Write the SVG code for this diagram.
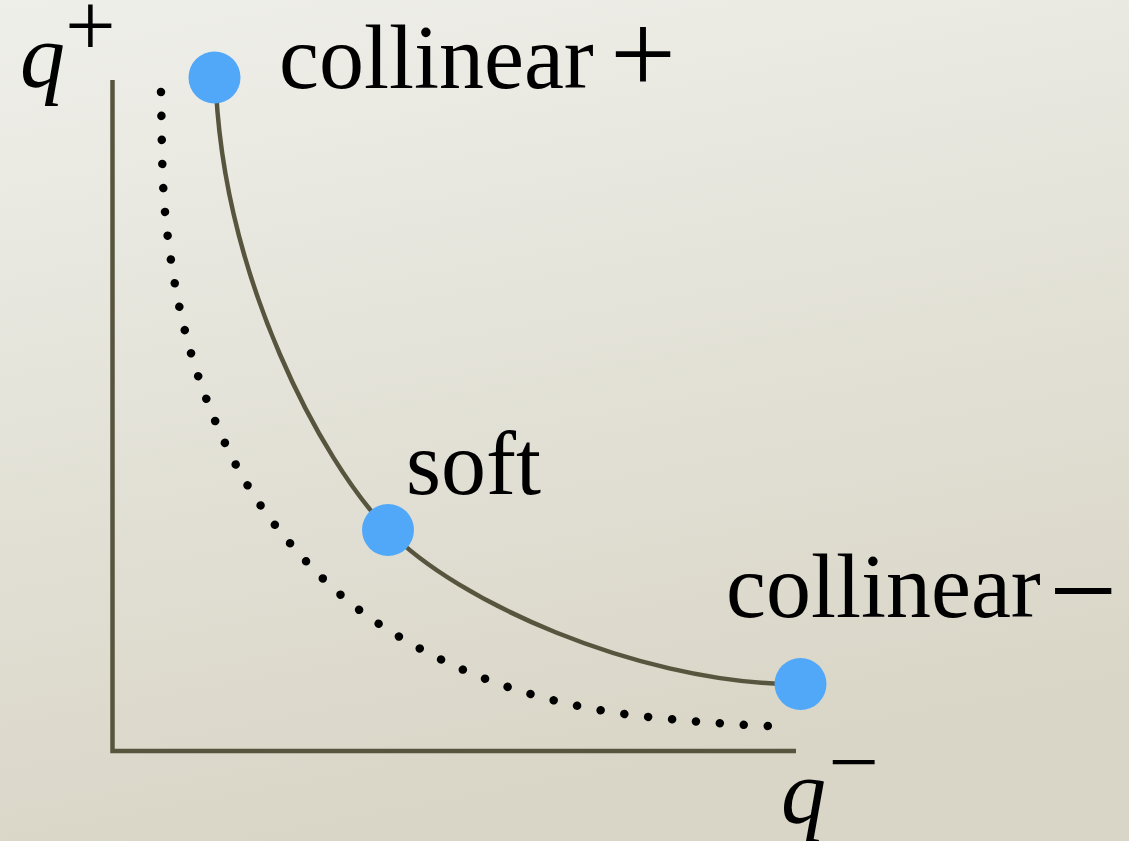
<svg xmlns="http://www.w3.org/2000/svg" width="1129" height="841" viewBox="0 0 1129 841">
  <defs>
    <linearGradient id="bg" x1="0" y1="0" x2="0.25" y2="1">
      <stop offset="0" stop-color="#efefea"/>
      <stop offset="1" stop-color="#d9d6c7"/>
    </linearGradient>
  </defs>
  <style>
    .lbl { font-family: "Liberation Serif", "Times New Roman", serif; font-size: 90px; fill: #000; }
    .ital { font-style: italic; }
    .axis { fill: none; stroke: #58553f; stroke-width: 4.5; stroke-linejoin: miter; }
    .curve { fill: none; stroke: #58553f; stroke-width: 4.5; }
    .dots { fill: none; stroke: #000; stroke-width: 8.5; stroke-linecap: round; stroke-dasharray: 0.001 0.999; }
    .pt { fill: #52a8f8; }
  </style>
  <rect width="1129" height="841" fill="url(#bg)"/>

  <g id="axes">
    <path class="axis" d="M112.5 80 V751 H796"/>
    <text class="lbl ital" x="20" y="87">q</text>
    <text class="lbl" x="65" y="56" font-size="91">+</text>
    <text class="lbl ital" x="781" y="823">q</text>
    <text class="lbl" x="828.5" y="792" font-size="83">−</text>
  </g>

  <g id="connectors">
    <path class="curve" d="M216 90 C226 280 319 458 388 530 C457 602 635 680 785 684"/>
    <path class="dots" pathLength="42.01" d="M161 92 C161.7 112 161.3 175 165 212 C171.2 274 182.4 336 206 398 C222 440 242 483 275 525 C305 563 339 597.6 379 624 C419 650.4 462.5 671.8 508 687 C553.5 702.2 601.2 712 649 717 C688.8 721.2 728 724.4 768 726"/>
  </g>

  <g id="collinear-plus">
    <circle class="pt" cx="214.5" cy="77.5" r="26"/>
    <text class="lbl" x="279" y="88">collinear<tspan x="610" dy="5" font-size="117">+</tspan></text>
  </g>

  <g id="soft">
    <circle class="pt" cx="388" cy="530" r="26"/>
    <text class="lbl" x="406" y="494">soft</text>
  </g>

  <g id="collinear-minus">
    <circle class="pt" cx="800.5" cy="684" r="26"/>
    <text class="lbl" x="726" y="617">collinear<tspan x="1049" dy="14" font-size="121">−</tspan></text>
  </g>
</svg>
